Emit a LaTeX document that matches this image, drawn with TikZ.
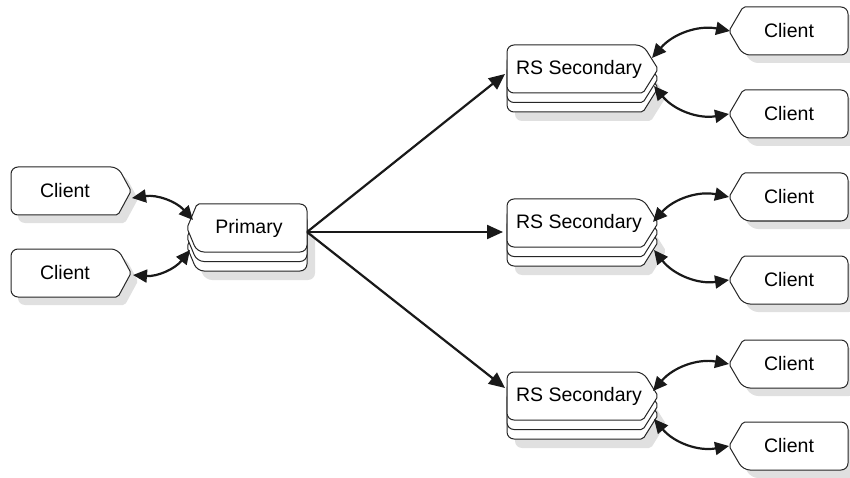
\documentclass[tikz,border=0pt]{standalone}
\usepackage{fontspec}
\setmainfont{Liberation Sans}
\usetikzlibrary{arrows.meta}
\tikzset{
  x=1pt,y=1pt,
  boxline/.style={draw=black!85, line width=1pt, fill=white},
  shadowfill/.style={fill=black!12, draw=none},
  lbl/.style={inner sep=0pt, font=\fontsize{19.5}{23}\selectfont},
  conn/.style={draw=black!90, line width=2.2pt, -{Triangle[length=16pt,width=14pt]}},
  biconn/.style={draw=black!90, line width=2.2pt, {Triangle[length=14pt,width=13pt]}-{Triangle[length=14pt,width=13pt]}},
  pics/tipR/.style n args={3}{code={
    \path[pic actions] (0,-#2/2) [rounded corners=7pt] -- (0,0) -- (#1-#3,0) [rounded corners=2pt] -- (#1,-#2/2) -- (#1-#3,-#2) [rounded corners=7pt] -- (0,-#2) -- cycle;
  }},
  pics/tipL/.style n args={3}{code={
    \path[pic actions] (#1/2,0) [rounded corners=7pt] -- (#1,0) -- (#1,-#2) -- (#3,-#2) [rounded corners=2pt] -- (0,-#2/2) -- (#3,0) [rounded corners=7pt] -- cycle;
  }},
}
\begin{document}
\begin{tikzpicture}
\useasboundingbox (0,0) rectangle (850,-478);

% ---------- left clients ----------
\pic[shadowfill] at (18,-175) {tipR={120}{48}{13}};
\pic[boxline] at (11,-167) {tipR={120}{48}{13}};
\node[lbl] (lc1) at (65,-191) {Client};
\pic[shadowfill] at (18,-257) {tipR={120}{48}{13}};
\pic[boxline] at (11,-249) {tipR={120}{48}{13}};
\node[lbl] (lc2) at (65,-273) {Client};

% ---------- primary (stacked) ----------
\pic[shadowfill] at (195,-232) {tipL={120}{48}{10}};
\pic[boxline] at (187,-223) {tipL={120}{48}{10}};
\pic[boxline] at (187,-213.5) {tipL={120}{48}{10}};
\pic[boxline] at (187,-204) {tipL={120}{48}{10}};
\node[lbl] (pri) at (249,-228) {Primary};

% ---------- RS secondaries (stacked) ----------
\foreach \yy/\nm in {45/rs1,199/rs2,372/rs3}{
  \pic[shadowfill] at (515,-\yy-28) {tipR={151}{48}{15}};
  \pic[boxline] at (507,-\yy-19) {tipR={151}{48}{15}};
  \pic[boxline] at (507,-\yy-9.5) {tipR={151}{48}{15}};
  \pic[boxline] at (507,-\yy) {tipR={151}{48}{15}};
  \node[lbl] (\nm) at (579,-\yy-24.5) {RS Secondary};
}

% ---------- right clients ----------
\foreach \yy/\nm in {7/rc1,90/rc2,173/rc3,256/rc4,340/rc5,422/rc6}{
  \pic[shadowfill] at (737,-\yy-8) {tipL={119}{48}{14}};
  \pic[boxline] at (729,-\yy) {tipL={119}{48}{14}};
  \node[lbl] (\nm) at (789,-\yy-24) {Client};
}

% ---------- connector end points ----------
\coordinate (lc1e) at (132,-198);
\coordinate (lc2e) at (133,-275);
\coordinate (pri1) at (193,-220);
\coordinate (pri2) at (190,-250);
\coordinate (prio) at (307,-232);
\coordinate (rs1i) at (505,-74);
\coordinate (rs2i) at (503,-232);
\coordinate (rs3i) at (505,-388);
\coordinate (rs1a) at (652,-58);
\coordinate (rs1b) at (654,-86);
\coordinate (rs2a) at (653,-222);
\coordinate (rs2b) at (654,-250);
\coordinate (rs3a) at (653,-391);
\coordinate (rs3b) at (654,-419);
\coordinate (rc1e) at (730,-31);
\coordinate (rc2e) at (729,-114);
\coordinate (rc3e) at (729,-197);
\coordinate (rc4e) at (729,-280);
\coordinate (rc5e) at (729,-364);
\coordinate (rc6e) at (729,-446);

% ---------- connectors ----------
\draw[biconn] (lc1e) to[bend left=28] (pri1);
\draw[biconn] (lc2e) to[bend right=28] (pri2);
\draw[conn] (prio) -- (rs1i);
\draw[conn] (prio) -- (rs2i);
\draw[conn] (prio) -- (rs3i);
\draw[biconn] (rs1a) to[bend left=30] (rc1e);
\draw[biconn] (rs1b) to[bend right=30] (rc2e);
\draw[biconn] (rs2a) to[bend left=30] (rc3e);
\draw[biconn] (rs2b) to[bend right=30] (rc4e);
\draw[biconn] (rs3a) to[bend left=30] (rc5e);
\draw[biconn] (rs3b) to[bend right=30] (rc6e);
\end{tikzpicture}
\end{document}
